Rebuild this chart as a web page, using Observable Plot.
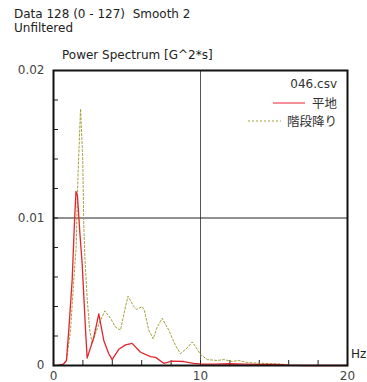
<!DOCTYPE html>
<html>
<head>
<meta charset="utf-8">
<script src="https://cdn.jsdelivr.net/npm/d3@7"></script>
<script src="https://cdn.jsdelivr.net/npm/@observablehq/plot@0.6"></script>
<style>
  body { margin: 0; background: #fff; }
  #wrap { position: relative; width: 367px; height: 382px; font-family: "DejaVu Sans", "Noto Sans CJK JP", sans-serif; color: #222; }
  .t { position: absolute; font-size: 12px; white-space: pre; line-height: 14px; }
</style>
</head>
<body>
<div id="wrap"></div>
<script>
// ---- data ----
const seriesNames = ["平地", "階段降り"];
const fileName = "046.csv";
const titleLines = ["Data 128 (0 - 127)  Smooth 2", "Unfiltered"];
const chartTitle = "Power Spectrum [G^2*s]";
const xUnit = "Hz";
const xTickLabels = [0, 10, 20];
const yTickLabels = [0, 0.01, 0.02];

const flatHz =  [0, 0.34, 0.68, 0.88, 1.04, 1.27, 1.43, 1.53, 1.63, 1.8, 1.95, 2.18, 2.29, 2.74, 3.08, 3.42, 3.76, 3.99, 4.44, 4.9, 5.35, 5.92, 6.6, 6.94, 7.5, 8.07, 8.86, 9.54, 10.1, 11, 12, 13, 14, 15, 15.5, 16, 17, 20];
const flatVal = [0, 0.00003, 0.0001, 0.00034, 0.0024, 0.0058, 0.0098, 0.0118, 0.0115, 0.0089, 0.0069, 0.0024, 0.0005, 0.0019, 0.0035, 0.0017, 0.0008, 0.0004, 0.0011, 0.0014, 0.0015, 0.0009, 0.0006, 0.00055, 0.00015, 0.0003, 0.00027, 0.00015, 0.0001, 0.0001, 0.00012, 0.0001, 0.00008, 0.00008, 0.00005, 0.00002, 0, 0];

const stairHz =  [0, 0.4, 0.7, 0.88, 1.16, 1.38, 1.54, 1.67, 1.84, 1.99, 2.06, 2.14, 2.29, 2.45, 2.63, 3.08, 3.49, 3.88, 4.22, 4.56, 4.9, 5.07, 5.46, 5.65, 6.03, 6.19, 6.48, 6.78, 7.05, 7.39, 7.84, 8.3, 8.64, 9.1, 9.44, 9.78, 10, 10.46, 11.14, 11.59, 12.16, 12.6, 13.18, 14.1, 15.44, 16.1, 17, 20];
const stairVal = [0, 0, 0.0001, 0.0003, 0.0024, 0.0058, 0.008, 0.013, 0.0174, 0.014, 0.0095, 0.0072, 0.0046, 0.0025, 0.0015, 0.0028, 0.0037, 0.0032, 0.0026, 0.0024, 0.004, 0.0047, 0.004, 0.0038, 0.004, 0.0037, 0.0024, 0.0018, 0.0026, 0.0032, 0.0024, 0.00135, 0.0008, 0.0012, 0.0016, 0.0011, 0.00075, 0.0004, 0.00034, 0.0004, 0.00027, 0.00034, 0.0002, 0.00015, 0.0001, 0.00002, 0, 0];

const red = "#e3242f";
const olive = "#a3a038";

const flat = flatHz.map((x, i) => ({x, y: flatVal[i]}));
const stair = stairHz.map((x, i) => ({x, y: stairVal[i]}));

const chart = Plot.plot({
  width: 367,
  height: 382,
  marginLeft: 53,
  marginRight: 20,
  marginTop: 70,
  marginBottom: 17,
  style: {fontFamily: "DejaVu Sans, sans-serif", fontSize: "12px", color: "#333", background: "#fff"},
  x: {domain: [0, 20], label: null},
  y: {domain: [0, 0.02], label: null},
  marks: [
    Plot.ruleX([10], {stroke: "#555", strokeWidth: 1}),
    Plot.ruleY([0.01], {stroke: "#222", strokeWidth: 1}),
    Plot.axisY({ticks: d3.range(0, 0.0201, 0.002), tickSize: -5, text: null, stroke: "#222", label: null}),
    Plot.axisY({ticks: yTickLabels, tickSize: 0, tickPadding: 9, tickFormat: d => d === 0 ? "0" : String(d), fill: "#444", label: null}),
    Plot.axisX({ticks: d3.range(0, 20.1, 2), tickSize: -5, text: null, stroke: "#222", label: null}),
    Plot.axisX({ticks: xTickLabels, tickSize: 0, tickPadding: 6, tickFormat: d => String(d), fill: "#444", label: null}),
    Plot.line(stair, {x: "x", y: "y", stroke: olive, strokeWidth: 1, strokeDasharray: "2,2", curve: "linear"}),
    Plot.line(flat, {x: "x", y: "y", stroke: red, strokeWidth: 1.3, curve: "linear"}),
    Plot.frame({stroke: "#111", strokeWidth: 2})
  ]
});

const wrap = document.getElementById("wrap");
wrap.appendChild(chart);

// legend drawn into the SVG
const svg = d3.select(chart);
const lg = svg.append("g").attr("font-family", "Noto Sans CJK JP, sans-serif").attr("font-size", 12.5).attr("fill", "#333").attr("text-anchor", "end");
lg.append("text").attr("x", 337).attr("y", 88).attr("font-family", "DejaVu Sans, sans-serif").attr("font-size", 12).text(fileName);
lg.append("line").attr("x1", 273).attr("x2", 305).attr("y1", 103).attr("y2", 103).attr("stroke", "#f06a74").attr("stroke-width", 1.5);
lg.append("text").attr("x", 337).attr("y", 108).text(seriesNames[0]);
lg.append("line").attr("x1", 248).attr("x2", 281).attr("y1", 121).attr("y2", 121).attr("stroke", olive).attr("stroke-width", 1).attr("stroke-dasharray", "2,2");
lg.append("text").attr("x", 337).attr("y", 126).text(seriesNames[1]);

function addText(txt, left, top) {
  const d = document.createElement("div");
  d.className = "t";
  d.style.left = left + "px";
  d.style.top = top + "px";
  d.textContent = txt;
  wrap.appendChild(d);
}
addText(titleLines[0], 14, 7);
addText(titleLines[1], 14, 21);
addText(chartTitle, 62, 48);
addText(xUnit, 351, 347);
</script>
</body>
</html>
